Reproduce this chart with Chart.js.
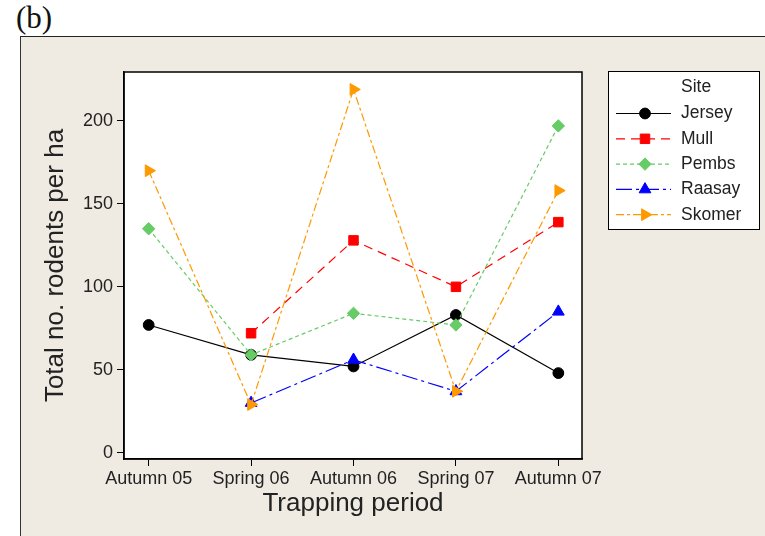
<!DOCTYPE html>
<html>
<head>
<meta charset="utf-8">
<script src="https://cdn.jsdelivr.net/npm/chart.js@4.4.1/dist/chart.umd.min.js"></script>
<style>
body { margin:0; width:765px; height:536px; position:relative; overflow:hidden; background:#fff; }
#etiqueta { position:absolute; left:16px; top:2px; font:31px/1 "Liberation Serif", serif; color:#111; }
#panel { position:absolute; left:20px; top:36px; right:0; bottom:0; background:#EFEBE2; border-top:1px solid #222; border-left:1px solid #333; }
#myChart { position:absolute; left:0; top:0; }
</style>
</head>
<body>
<div id="etiqueta">(b)</div>
<div id="panel"></div>
<canvas id="myChart" width="765" height="536"></canvas>
<script>
let periodos = ["Autumn 05", "Spring 06", "Autumn 06", "Spring 07", "Autumn 07"];
let sitios = ["Jersey", "Mull", "Pembs", "Raasay", "Skomer"];
let jersey = [77, 59, 52, 83, 48];
let mull = [null, 72, 128, 100, 139];
let pembs = [135, 59, 84, 77, 197];
let raasay = [null, 30, 56, 37, 85];
let skomer = [170, 29, 219, 37, 158];
let yTicks = [0, 50, 100, 150, 200];

let series = [jersey, mull, pembs, raasay, skomer];

// estilo de cada sitio
let estilos = [
    {color: "#000000", dash: [], punto: "circle", radio: 5.4, rot: 0},
    {color: "#FF0000", dash: [9, 6], punto: "rect", radio: 6.7, rot: 0},
    {color: "#66CC66", dash: [4, 3], punto: "rectRot", radio: 6.2, rot: 0},
    {color: "#0000FF", dash: [16, 4, 3, 4], punto: "triangle", radio: 6.8, rot: 0},
    {color: "#FF9900", dash: [8, 3, 3, 3], punto: "triangle", radio: 6.8, rot: 90}
];

let colorTexto = "#222";
let fuente = "'Liberation Sans', Arial, sans-serif";

const datasets = series.map((valores, i) => ({
    label: sitios[i],
    data: valores.map((v, j) => ({x: j, y: v})),
    borderColor: estilos[i].color,
    backgroundColor: estilos[i].color,
    borderWidth: 1.2,
    borderDash: estilos[i].dash,
    pointStyle: estilos[i].punto,
    pointRadius: estilos[i].radio,
    pointRotation: estilos[i].rot,
    pointBackgroundColor: estilos[i].color,
    pointBorderColor: estilos[i].color,
    pointBorderWidth: 1,
    tension: 0,
    order: series.length - i
}));

const fondoPlot = {
    id: "fondoPlot",
    beforeDraw(chart) {
        const a = chart.chartArea;
        const ctx = chart.ctx;
        ctx.save();
        ctx.fillStyle = "#fff";
        ctx.fillRect(a.left, a.top, a.right - a.left, a.bottom - a.top);
        ctx.restore();
    },
    afterDraw(chart) {
        const a = chart.chartArea;
        const ctx = chart.ctx;
        ctx.save();
        ctx.strokeStyle = "#000";
        ctx.lineWidth = 1.5;
        ctx.strokeRect(a.left, a.top, a.right - a.left, a.bottom - a.top);
        ctx.restore();
    }
};

const leyenda = {
    id: "leyenda",
    afterDraw(chart) {
        const ctx = chart.ctx;
        ctx.save();
        ctx.fillStyle = "#fff";
        ctx.strokeStyle = "#000";
        ctx.lineWidth = 1;
        ctx.fillRect(608.5, 71.5, 151, 158);
        ctx.strokeRect(608.5, 71.5, 151, 158);
        ctx.font = "17.5px " + fuente;
        ctx.textBaseline = "middle";
        ctx.fillStyle = colorTexto;
        ctx.fillText("Site", 681, 87);
        chart.data.datasets.forEach((ds, i) => {
            const y = 113.5 + i * 25.3;
            ctx.strokeStyle = ds.borderColor;
            ctx.lineWidth = ds.borderWidth;
            ctx.setLineDash(ds.borderDash);
            ctx.beginPath();
            ctx.moveTo(616, y);
            ctx.lineTo(671, y);
            ctx.stroke();
            ctx.setLineDash([]);
            ctx.fillStyle = ds.pointBackgroundColor;
            ctx.lineWidth = 1;
            Chart.helpers.drawPoint(ctx, {
                pointStyle: ds.pointStyle,
                rotation: ds.pointRotation,
                radius: ds.pointRadius,
                borderWidth: 1
            }, 645, y);
            ctx.fillStyle = colorTexto;
            ctx.fillText(ds.label, 681, y);
        });
        ctx.restore();
    }
};

const conf = {
    type: "line",
    data: {datasets},
    options: {
        responsive: false,
        animation: false,
        layout: {padding: {left: 20, top: 72, right: 183, bottom: 17}},
        plugins: {legend: {display: false}, tooltip: {enabled: false}},
        scales: {
            x: {
                type: "linear",
                min: -0.241,
                max: 4.231,
                afterBuildTicks: s => { s.ticks = periodos.map((p, i) => ({value: i})); },
                afterFit: s => { s.height = 60; },
                ticks: {
                    callback: v => periodos[v],
                    color: colorTexto,
                    font: {family: fuente, size: 18},
                    padding: 2,
                    maxRotation: 0,
                    autoSkip: false
                },
                grid: {drawOnChartArea: false, drawTicks: true, tickLength: 7, color: "#000"},
                border: {display: true, color: "#000", width: 1.5},
                title: {
                    display: true,
                    text: "Trapping period",
                    color: colorTexto,
                    font: {family: fuente, size: 26},
                    padding: {top: 0, bottom: 0}
                }
            },
            y: {
                min: -3.8,
                max: 229.5,
                afterBuildTicks: s => { s.ticks = yTicks.map(v => ({value: v})); },
                afterFit: s => { s.width = 104; },
                ticks: {
                    color: colorTexto,
                    font: {family: fuente, size: 18},
                    padding: 4
                },
                grid: {drawOnChartArea: false, drawTicks: true, tickLength: 7, color: "#000"},
                border: {display: true, color: "#000", width: 1.5},
                title: {
                    display: true,
                    text: "Total no. rodents per ha",
                    color: colorTexto,
                    font: {family: fuente, size: 26},
                    padding: {top: 20, bottom: 0}
                }
            }
        }
    },
    plugins: [fondoPlot, leyenda]
};

let grafico = new Chart(document.querySelector("#myChart"), conf);
</script>
</body>
</html>
